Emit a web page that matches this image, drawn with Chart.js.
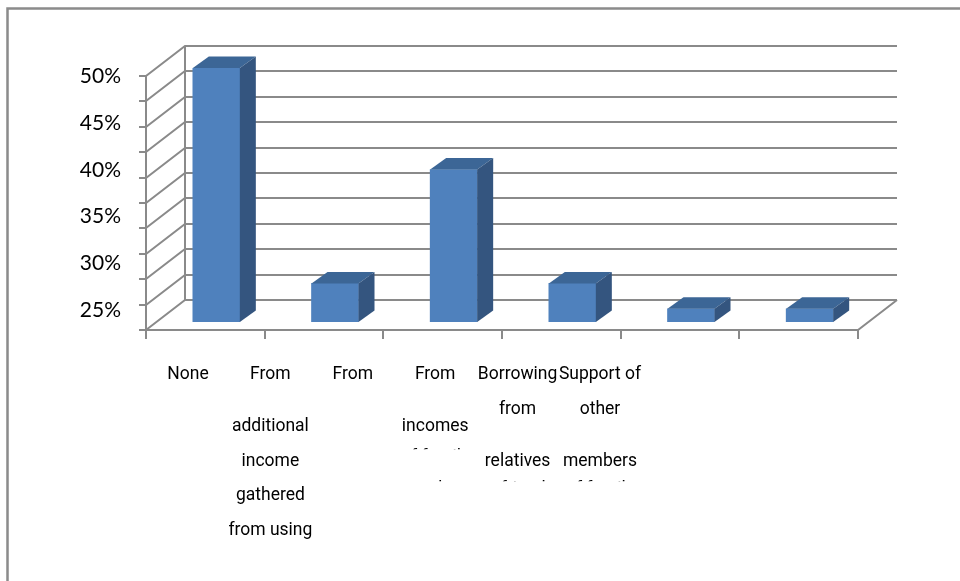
<!DOCTYPE html>
<html><head><meta charset="utf-8">
<script src="https://cdn.jsdelivr.net/npm/chart.js@4.4.1/dist/chart.umd.min.js"></script>
<style>html,body{margin:0;padding:0;background:#fff;overflow:hidden}canvas{display:block}</style>
</head><body>
<canvas id="c" width="960" height="581"></canvas>
<script>
// ---- data ----
const categories = ['None', 'From additional income gathered from using', 'From', 'From incomes of family members', 'Borrowing from relatives or friends', 'Support of other members of family'];
const shares = [50, 28.8, 40, 28.8, 26.3, 26.3];
const yTickValues = [25, 30, 35, 40, 45, 50];
const xLabelLines = [
  ['None'],
  ['From', '', '', 'additional', '', 'income', '', 'gathered', '', 'from using'],
  ['From'],
  ['From', '', '', 'incomes'],
  ['Borrowing', '', 'from', '', '', 'relatives'],
  ['Support of', '', 'other', '', '', 'members']
];
const xClippedLines = [
  {cat: 3, row: 4.8, text: 'of family'},
  {cat: 3, row: 6.65, text: 'members'},
  {cat: 4, row: 6.65, text: 'or friends'},
  {cat: 5, row: 6.65, text: 'of family'}
];

// ---- style / layout ----
function hasFont(f) {
  const c = document.createElement('canvas').getContext('2d');
  const s = 'abcdefghijklmnopqrstuvwxyzABCDEFGHIJ0123456789';
  c.font = '40px monospace'; const a = c.measureText(s).width;
  c.font = "40px '" + f + "', monospace"; const b = c.measureText(s).width;
  return Math.abs(a - b) > 0.5;
}
let xFont = {family: 'Roboto', size: 17.5};
if (hasFont('Liberation Sans Narrow')) xFont = {family: "'Liberation Sans Narrow'", size: 20};
const X_LINE_H = 17.3;
const X_PAD = 44.3;
const yFont = {family: 'Lato', size: 21};
const GRID_COLOR = '#8A8A8A';
const GRID_STEP = 2.5;
const FRONT = {dx: -11, dy: 8};
const BACK = {dx: 28, dy: -22};
const DEPTH = {dx: 16, dy: -11.5};
const FACE_FRONT = '#4F81BD', FACE_TOP = '#3C6696', FACE_SIDE = '#34557F';

const frame3d = {
  id: 'frame3d',
  beforeDraw(chart) {
    const ctx = chart.ctx;
    ctx.save();
    ctx.strokeStyle = '#8B8B8B'; ctx.lineWidth = 2.5;
    ctx.beginPath();
    ctx.moveTo(7.5, 581); ctx.lineTo(7.5, 8.5); ctx.lineTo(960, 8.5);
    ctx.stroke();
    ctx.restore();
  },
  beforeDatasetsDraw(chart) {
    const {ctx, chartArea} = chart;
    const L = chartArea.left, R = chartArea.right, T = chartArea.top, B = chartArea.bottom;
    const y = chart.scales.y;
    ctx.save();
    ctx.strokeStyle = GRID_COLOR; ctx.lineWidth = 2; ctx.lineJoin = 'miter';
    for (let v = y.min; v <= y.max + 1e-9; v += GRID_STEP) {
      const py = Math.round(y.getPixelForValue(v));
      ctx.beginPath();
      ctx.moveTo(L + FRONT.dx, py + FRONT.dy);
      ctx.lineTo(L + BACK.dx, py + BACK.dy);
      ctx.lineTo(R + BACK.dx, py + BACK.dy);
      ctx.stroke();
      ctx.beginPath();
      ctx.moveTo(L + FRONT.dx - 7, py + FRONT.dy);
      ctx.lineTo(L + FRONT.dx, py + FRONT.dy);
      ctx.stroke();
    }
    ctx.beginPath();
    ctx.moveTo(L + BACK.dx, T + BACK.dy); ctx.lineTo(L + BACK.dx, B + BACK.dy); ctx.stroke();
    ctx.beginPath();
    ctx.moveTo(L + FRONT.dx, T + FRONT.dy); ctx.lineTo(L + FRONT.dx, B + FRONT.dy); ctx.stroke();
    ctx.beginPath();
    ctx.moveTo(L + FRONT.dx, B + FRONT.dy);
    ctx.lineTo(R + FRONT.dx, B + FRONT.dy);
    ctx.lineTo(R + BACK.dx, B + BACK.dy);
    ctx.stroke();
    const n = chart.data.labels.length;
    for (let i = 0; i <= n; i++) {
      const xb = Math.round(L + i * (R - L) / n + FRONT.dx);
      ctx.beginPath();
      ctx.moveTo(xb, B + FRONT.dy); ctx.lineTo(xb, B + FRONT.dy + 9); ctx.stroke();
    }
    ctx.restore();
  },
  afterDatasetsDraw(chart) {
    const ctx = chart.ctx;
    const meta = chart.getDatasetMeta(0);
    const bottom = chart.chartArea.bottom;
    ctx.save();
    meta.data.forEach(bar => {
      const p = bar.getProps(['x', 'y', 'base', 'width'], true);
      const base = Math.min(p.base, bottom);
      const l = p.x - p.width / 2, r = p.x + p.width / 2;
      ctx.fillStyle = FACE_TOP;
      ctx.beginPath();
      ctx.moveTo(l, p.y); ctx.lineTo(l + DEPTH.dx, p.y + DEPTH.dy);
      ctx.lineTo(r + DEPTH.dx, p.y + DEPTH.dy); ctx.lineTo(r, p.y); ctx.closePath(); ctx.fill();
      ctx.fillStyle = FACE_SIDE;
      ctx.beginPath();
      ctx.moveTo(r, p.y); ctx.lineTo(r + DEPTH.dx, p.y + DEPTH.dy);
      ctx.lineTo(r + DEPTH.dx, base + DEPTH.dy); ctx.lineTo(r, base); ctx.closePath(); ctx.fill();
    });
    ctx.restore();
  },
  afterDraw(chart) {
    const ctx = chart.ctx;
    const xl = chart.scales.xl;
    const y0 = xl.top + X_PAD + X_LINE_H / 2;
    ctx.save();
    ctx.font = xFont.size + 'px ' + xFont.family;
    ctx.fillStyle = '#000'; ctx.textAlign = 'center'; ctx.textBaseline = 'middle';
    const asc = ctx.measureText('fdlbh').actualBoundingBoxAscent;
    xClippedLines.forEach(c => {
      const cy = y0 + c.row * X_LINE_H;
      const cx = xl.getPixelForValue(c.cat);
      ctx.save();
      ctx.beginPath();
      ctx.rect(cx - 60, cy - asc - 2, 120, 3.8);
      ctx.clip();
      ctx.fillText(c.text, cx, cy);
      ctx.restore();
    });
    ctx.restore();
  }
};

new Chart(document.getElementById('c'), {
  type: 'bar',
  data: {
    labels: categories,
    datasets: [{
      data: shares,
      base: 25,
      backgroundColor: FACE_FRONT,
      borderWidth: 0,
      barThickness: 47,
      xAxisID: 'x', yAxisID: 'y'
    }]
  },
  options: {
    responsive: false,
    animation: false,
    devicePixelRatio: 1,
    layout: {padding: {left: 0, right: 91, top: 68, bottom: 0}},
    plugins: {legend: {display: false}, tooltip: {enabled: false}},
    scales: {
      x: {type: 'category', display: false, offset: true},
      y: {type: 'linear', display: false, min: 25, max: 50, ticks: {stepSize: GRID_STEP}},
      xl: {
        type: 'linear', position: 'bottom', min: -0.376, max: 8.265, offset: false,
        grid: {display: false, drawTicks: false, offset: false}, border: {display: false},
        afterBuildTicks: s => { s.ticks = xLabelLines.map((_, i) => ({value: i})); },
        afterFit: s => { s.height = 259; },
        ticks: {
          autoSkip: false, maxRotation: 0, minRotation: 0, padding: X_PAD,
          color: '#000',
          font: {family: xFont.family, size: xFont.size, lineHeight: X_LINE_H / xFont.size},
          callback: v => xLabelLines[v]
        }
      },
      yl: {
        type: 'linear', position: 'left', min: 23.71, max: 50.93,
        grid: {display: false, drawTicks: false}, border: {display: false},
        afterBuildTicks: s => { s.ticks = yTickValues.map(v => ({value: v})); },
        afterFit: s => { s.width = 157; },
        ticks: {
          padding: 36, color: '#000',
          font: {family: yFont.family, size: yFont.size},
          callback: v => v + '%'
        }
      }
    }
  },
  plugins: [frame3d]
});
</script>
</body></html>
